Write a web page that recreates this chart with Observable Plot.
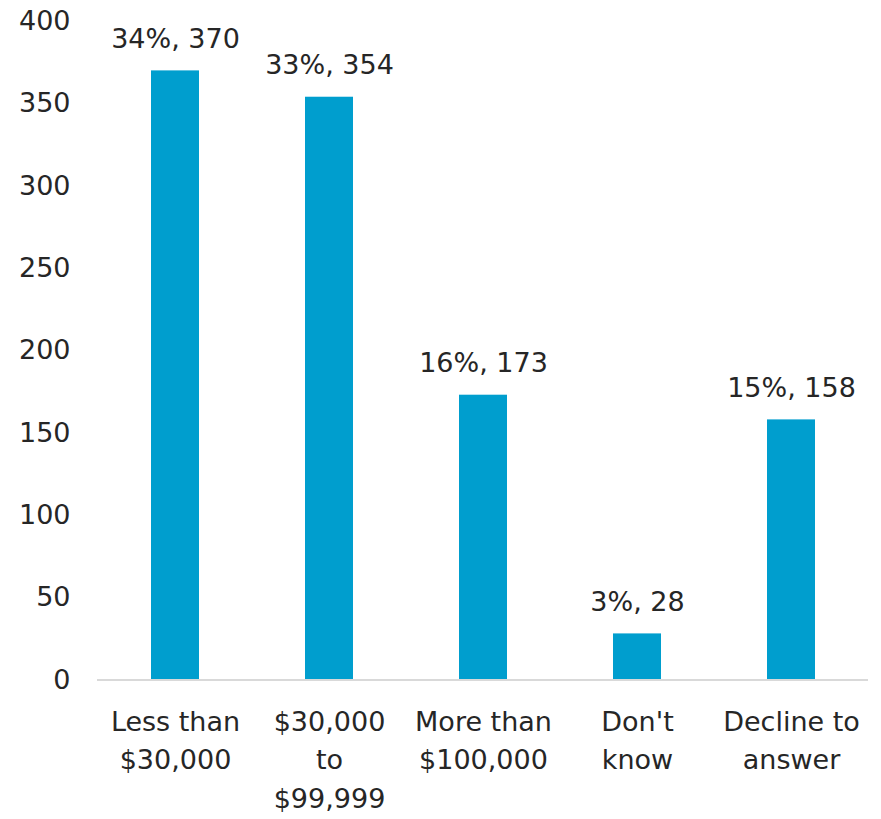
<!DOCTYPE html>
<html>
<head>
<meta charset="utf-8">
<script src="https://cdn.jsdelivr.net/npm/d3@7"></script>
<script src="https://cdn.jsdelivr.net/npm/@observablehq/plot@0.6"></script>
<style>
  html, body { margin: 0; padding: 0; background: #fff; }
  svg { display: block; }
</style>
</head>
<body>
<div id="chart"></div>
<script>
const categories = ["Less than\n$30,000", "$30,000\nto\n$99,999", "More than\n$100,000", "Don't\nknow", "Decline to\nanswer"];
const counts = [370, 354, 173, 28, 158];
const percents = ["34%", "33%", "16%", "3%", "15%"];
const yTicks = [0, 50, 100, 150, 200, 250, 300, 350, 400];

const data = categories.map((c, i) => ({cat: c, value: counts[i], label: `${percents[i]}, ${counts[i]}`}));

const font = "DejaVu Sans, sans-serif";
const chart = Plot.plot({
  width: 881,
  height: 819,
  marginTop: 21,
  marginBottom: 139.5,
  marginLeft: 97,
  marginRight: 13,
  style: {fontFamily: font, fontSize: "27px", color: "#262626", background: "#fff"},
  x: {domain: categories, paddingInner: 0.69, paddingOuter: 0.345, label: null},
  y: {domain: [0, 400], ticks: yTicks, label: null},
  marks: [
    Plot.axisY({ticks: yTicks, tickSize: 0, tickPadding: 27, fontSize: 27, fill: "#262626", label: null}),
    Plot.axisX({tickSize: 0, tickPadding: 23, fontSize: 27, lineHeight: 1.44, fill: "#262626", label: null}),
    Plot.barY(data, {x: "cat", y: "value", fill: "#009ECE"}),
    Plot.ruleY([0], {stroke: "#d9d9d9", strokeWidth: 2}),
    Plot.text(data, {x: "cat", y: "value", text: "label", dy: -32, fontSize: 27, fill: "#262626"})
  ]
});
document.getElementById("chart").appendChild(chart);
</script>
</body>
</html>
